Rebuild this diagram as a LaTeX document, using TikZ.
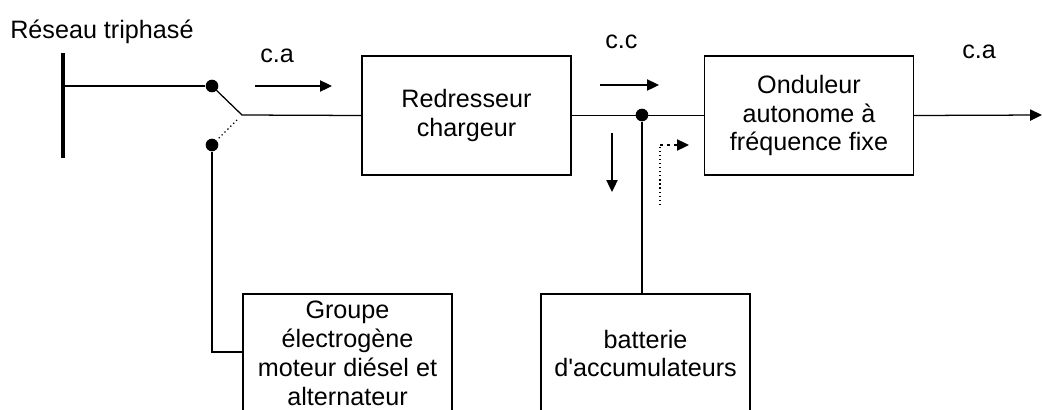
\documentclass[tikz,border=0pt]{standalone}
\usepackage{fontspec}
\setmainfont{Liberation Sans}
\usetikzlibrary{arrows.meta}
\begin{document}
\begin{tikzpicture}[
    x=0.025cm, y=-0.025cm,
    every node/.style={font=\fontsize{17.9pt}{20.6pt}\selectfont},
    bloc/.style={rectangle, draw, line width=0.9pt, align=center,
      minimum width=5.225cm, minimum height=2.975cm, inner sep=0pt},
    dot/.style={circle, fill, inner sep=0pt, minimum size=9pt},
    lbl/.style={anchor=base west, inner sep=0pt},
    fil/.style={line width=0.9pt},
    >={Triangle[length=8.5pt,width=8pt]}
  ]
  \useasboundingbox (0,0) rectangle (1042,409);
  \clip (0,0) rectangle (1042,409);
  \node (redr) [bloc] at (466.5,115.5) {Redresseur\\chargeur};
  \node (ond) [bloc] at (809,115.5) {Onduleur\\autonome à\\fréquence fixe};
  \node (grp) [bloc] at (347.5,353.5) {Groupe\\électrogène\\moteur diésel et\\alternateur};
  \node (bat) [bloc] at (645.5,353.5) {batterie\\d\textquotesingle accumulateurs};
  \node (bus) [fill, inner sep=0pt, minimum width=2.8pt, minimum height=2.625cm] at (63,105.5) {};
  \node (dA) [dot] at (212,86) {};
  \node (dB) [dot] at (212,145) {};
  \node (dC) [dot] at (642,115) {};
  \coordinate (sw) at (242,115);
  \coordinate (coin) at (212,352);
  \coordinate (sortie) at (1042,115);
  \coordinate (ca1) at (255,86);
  \coordinate (ca2) at (332,86);
  \coordinate (cc1) at (600,85);
  \coordinate (cc2) at (659,85);
  \coordinate (ch1) at (612,133);
  \coordinate (ch2) at (612,192);
  \coordinate (dch1) at (660,205);
  \coordinate (dch2) at (660,145);
  \coordinate (dch3) at (689,145);
  \node (res) [lbl] at (10,38) {Réseau triphasé};
  \node (lca) [lbl] at (260,62) {c.a};
  \node (lcc) [lbl] at (605,48) {c.c};
  \node (lsa) [lbl] at (962,58) {c.a};
  \draw[fil] (bus.center |- dA) -- (dA);
  \draw[fil] (dA.center) -- (sw) -- (redr.west);
  \draw[fil, dotted, shorten <=5pt, shorten >=5pt] (sw) -- (dB.center);
  \draw[fil] (dB) -- (coin) -- (grp.west |- coin);
  \draw[fil] (redr.east) -- (ond.west);
  \draw[fil] (dC) -- (dC |- bat.north);
  \draw[fil, ->] (ond.east) -- (sortie);
  \draw[fil, ->] (ca1) -- (ca2);
  \draw[fil, ->] (cc1) -- (cc2);
  \draw[fil, ->] (ch1) -- (ch2);
  \draw[fil, dotted] (dch1) -- (dch2);
  \draw[fil, dash pattern=on 2pt off 3pt, ->] (dch2) -- (dch3);
\end{tikzpicture}
\end{document}
